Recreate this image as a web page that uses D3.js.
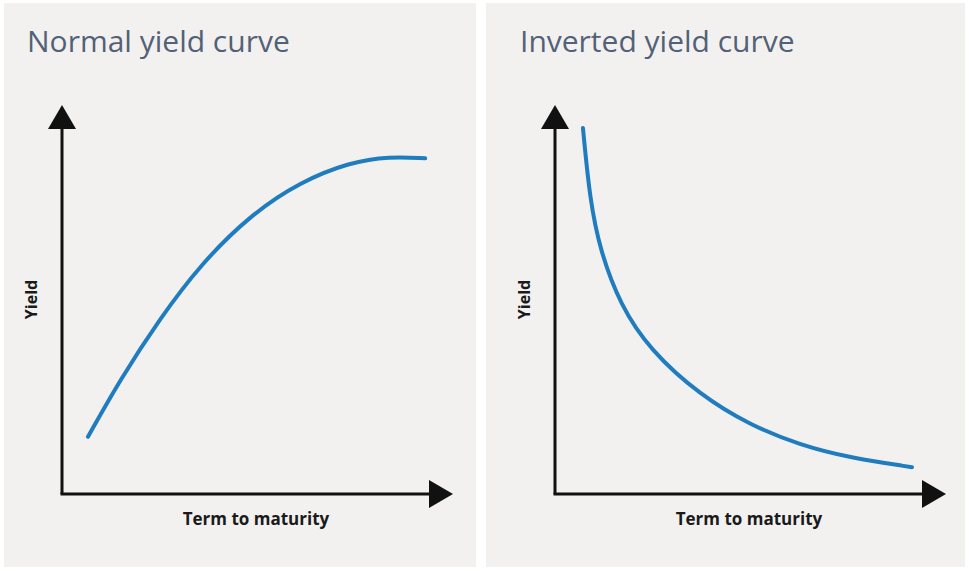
<!DOCTYPE html>
<html><head><meta charset="utf-8">
<script src="https://cdn.jsdelivr.net/npm/d3@7"></script>
<style>body{margin:0;background:#fff}</style>
</head><body>
<svg id="c" width="969" height="571"></svg>
<script>
// curve values on a 0..100 scale for term (x) and yield (y)
const normalTerm = [6.7, 14.9, 25.3, 35.6, 48.5, 61.3, 74.2, 84.5, 93.6];
const normalYield = [14.7, 29.3, 45.2, 58.9, 71.7, 80.2, 85.3, 86.8, 86.3];
const invertedTerm = [7.2, 9.0, 11.6, 16.8, 24.5, 37.4, 50.3, 63.1, 76.0, 92.0];
const invertedYield = [94.1, 75.6, 62.7, 48.6, 37.0, 25.4, 17.7, 12.6, 9.3, 6.9];
const titles = ['Normal yield curve', 'Inverted yield curve'];

const svg = d3.select('#c');
const panels = [
  { x0: 4, w: 472, ox: 62, title: titles[0], tx: normalTerm, ty: normalYield },
  { x0: 486, w: 479, ox: 555, title: titles[1], tx: invertedTerm, ty: invertedYield },
];

panels.forEach((p) => {
  const g = svg.append('g');
  g.append('rect').attr('x', p.x0).attr('y', 3).attr('width', p.w).attr('height', 564)
    .attr('fill', '#f2f1f0');
  g.append('text').attr('x', p.ox - 35).attr('y', 52).text(p.title)
    .attr('font-family', 'Open Sans, sans-serif').attr('font-size', 30)
    .attr('fill', '#526176');

  const x = d3.scaleLinear().domain([0, 100]).range([p.ox, p.ox + 388]);
  const y = d3.scaleLinear().domain([0, 100]).range([494, 105]);

  // axes with arrowheads
  g.append('line').attr('x1', x(0)).attr('y1', y(0)).attr('x2', x(0)).attr('y2', y(100) + 20)
    .attr('stroke', '#111').attr('stroke-width', 3);
  g.append('line').attr('x1', x(0) - 1.5).attr('y1', y(0)).attr('x2', x(100) - 20).attr('y2', y(0))
    .attr('stroke', '#111').attr('stroke-width', 3);
  g.append('path').attr('d', `M${x(0)},${y(100)}L${x(0) - 14},${y(100) + 24}L${x(0) + 14},${y(100) + 24}Z`)
    .attr('fill', '#111');
  g.append('path').attr('d', `M${x(100) + 3},${y(0)}L${x(100) - 21},${y(0) - 14}L${x(100) - 21},${y(0) + 14}Z`)
    .attr('fill', '#111');

  g.append('text').attr('transform', `translate(${x(0) - 25},${y(50)}) rotate(-90)`)
    .attr('text-anchor', 'middle').text('Yield')
    .attr('font-family', 'Open Sans, sans-serif').attr('font-size', 16).attr('font-weight', 'bold')
    .attr('fill', '#1a1a1a');
  g.append('text').attr('x', x(50)).attr('y', 525).attr('text-anchor', 'middle')
    .text('Term to maturity')
    .attr('font-family', 'Open Sans, sans-serif').attr('font-size', 17).attr('font-weight', 'bold')
    .attr('fill', '#1a1a1a');

  const line = d3.line().x(d => x(d[0])).y(d => y(d[1])).curve(d3.curveBasis);
  g.append('path').datum(d3.zip(p.tx, p.ty)).attr('d', line)
    .attr('fill', 'none').attr('stroke', '#1f7dbf').attr('stroke-width', 4)
    .attr('stroke-linecap', 'round');
});
</script>
</body></html>
